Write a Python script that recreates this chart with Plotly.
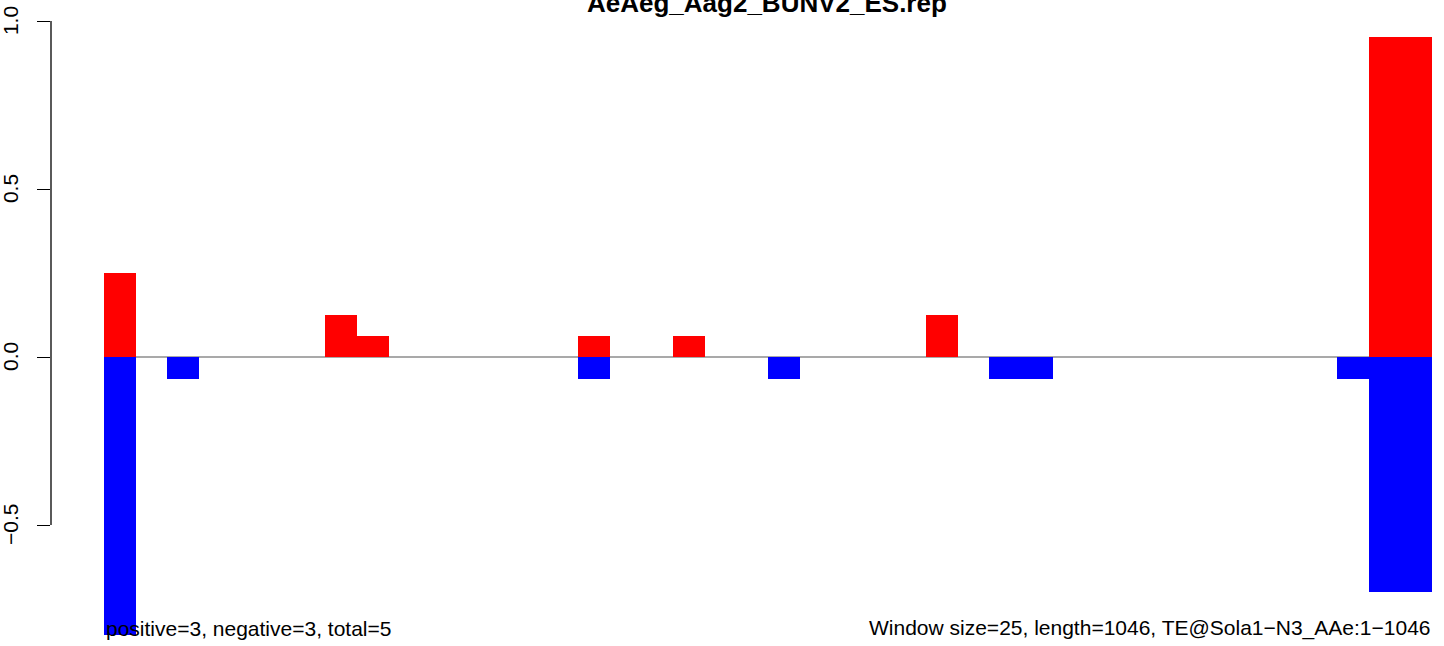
import plotly.graph_objects as go

# ---- data ----
n_windows = 42
positive = [0.25, 0, 0, 0, 0, 0, 0, 0.125, 0.0625, 0,
            0, 0, 0, 0, 0, 0.0625, 0, 0, 0.0625, 0,
            0, 0, 0, 0, 0, 0, 0.125, 0, 0, 0,
            0, 0, 0, 0, 0, 0, 0, 0, 0, 0,
            0.952, 0.952]
negative = [-0.827, 0, -0.065, 0, 0, 0, 0, 0, 0, 0,
            0, 0, 0, 0, 0, -0.065, 0, 0, 0, 0,
            0, -0.065, 0, 0, 0, 0, 0, 0, -0.065, -0.065,
            0, 0, 0, 0, 0, 0, 0, 0, 0, -0.065,
            -0.698, -0.698]
ytick_vals = [-0.5, 0.0, 0.5, 1.0]
ytick_text = ["\u22120.5", "0.0", "0.5", "1.0"]
title_text = "AeAeg_Aag2_BUNV2_ES.rep"
left_note = "positive=3, negative=3, total=5"
right_note = "Window size=25, length=1046, TE@Sola1\u2212N3_AAe:1\u22121046"

x = [i + 0.5 for i in range(n_windows)]

W, H = 1444, 646
ML, MR, MT, MB = 51, 0, 13, 0
PW, PH = W - ML - MR, H - MT - MB
Y_RANGE = [-0.86, 1.024]
X_RANGE = [-1.676, 42.38]
FONT = "Liberation Sans, Arial, Helvetica, sans-serif"

fig = go.Figure()
fig.add_trace(go.Bar(x=x, y=positive, width=1, marker=dict(color="#ff0000", line=dict(width=0)),
                     showlegend=False, hoverinfo="skip"))
fig.add_trace(go.Bar(x=x, y=negative, width=1, marker=dict(color="#0000ff", line=dict(width=0)),
                     showlegend=False, hoverinfo="skip"))

shapes = [
    dict(type="line", xref="x", yref="y", x0=0, x1=n_windows, y0=0, y1=0,
         line=dict(color="#8c8c8c", width=1.5), layer="below"),
    dict(type="line", xref="paper", yref="y", x0=0, x1=0, y0=min(ytick_vals), y1=max(ytick_vals),
         line=dict(color="black", width=1.3)),
]

annotations = []
for v, t in zip(ytick_vals, ytick_text):
    annotations.append(dict(xref="paper", yref="y", x=0, y=v, text=t, showarrow=False,
                            textangle=-90, xanchor="center", yanchor="middle", xshift=-41,
                            font=dict(family=FONT, size=21, color="black")))
annotations.append(dict(xref="x", yref="y", x=0, y=-0.8065, text=left_note, showarrow=False,
                        xanchor="left", yanchor="middle",
                        font=dict(family=FONT, size=21, color="black")))
annotations.append(dict(xref="x", yref="y", x=n_windows, y=-0.8065, text=right_note, showarrow=False,
                        xanchor="right", yanchor="middle",
                        font=dict(family=FONT, size=21, color="black")))
title_px_x, title_px_y = 767, 3
annotations.append(dict(xref="paper", yref="paper", x=(title_px_x - ML) / PW,
                        y=(H - MB - title_px_y) / PH, text="<b>" + title_text + "</b>",
                        showarrow=False, xanchor="center", yanchor="middle",
                        font=dict(family=FONT, size=26, color="black")))

fig.update_layout(
    width=W, height=H,
    margin=dict(l=ML, r=MR, t=MT, b=MB, pad=0),
    paper_bgcolor="white", plot_bgcolor="white",
    barmode="overlay", bargap=0,
    xaxis=dict(visible=False, range=X_RANGE, fixedrange=True),
    yaxis=dict(range=Y_RANGE, showgrid=False, zeroline=False, showline=False,
               tickvals=ytick_vals, showticklabels=False, ticks="outside",
               ticklen=13, tickwidth=1.3, tickcolor="black", fixedrange=True),
    shapes=shapes, annotations=annotations,
)

fig.write_html("out.html", config={"displayModeBar": False},
               post_script="document.body.style.margin='0px';document.body.style.overflow='hidden';")
